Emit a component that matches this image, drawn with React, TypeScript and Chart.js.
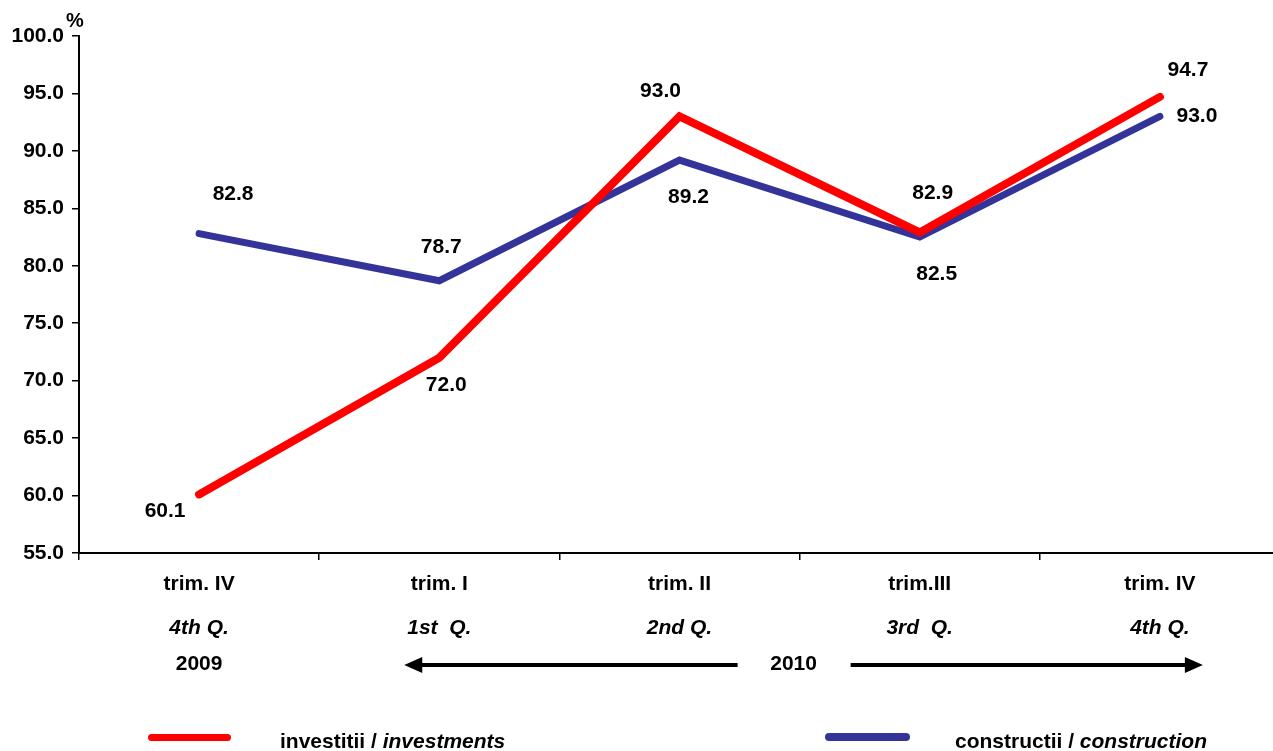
import React, { useEffect, useRef } from "react";
import { Chart, registerables } from "chart.js";

Chart.register(...registerables);

const FONT = '"Liberation Sans", Arial, sans-serif';
const FS = 21;

// ---- data ----
const quarterLabels = ["trim. IV", "trim. I", "trim. II", "trim.III", "trim. IV"];
const quarterLabelsEn = ["4th Q.", "1st  Q.", "2nd Q.", "3rd  Q.", "4th Q."];
const yearLabels = ["2009", "", "", "", ""];
const yearSpanLabel = "2010";
const investmentsValues = [60.1, 72.0, 93.0, 82.9, 94.7];
const constructionValues = [82.8, 78.7, 89.2, 82.5, 93.0];
const investmentsName = ["investitii / ", "investments"];
const constructionName = ["constructii / ", "construction"];
const yMin = 55;
const yMax = 100;
const yStep = 5;
const yUnit = "%";

// ---- label placement (px offsets from each point) ----
const investmentsLabelOffsets = [[-34, 17], [7, 28], [-19, -25], [13, -39], [28, -27]];
const constructionLabelOffsets = [[34, -39], [2, -34], [9, 37], [17, 37], [37, 0]];
// arrow spans for "2010" (in category-index units along the x scale)
const arrowLeftSpan = [0.854, 2.242];
const arrowRightSpan = [2.7125, 4.179];
const yearSpanPos = 2.475;

const RED = "#FF0000";
const BLUE = "#333399";

const overlayPlugin = {
  id: "overlay",
  afterDatasetsDraw(chart: any) {
    const ctx = chart.ctx;
    const x = chart.scales.x;
    const y = chart.scales.y;
    const x3 = chart.scales.x3;
    ctx.save();
    // data labels
    ctx.font = `bold ${FS}px ${FONT}`;
    ctx.fillStyle = "#000";
    ctx.textAlign = "center";
    ctx.textBaseline = "middle";
    const offs = [investmentsLabelOffsets, constructionLabelOffsets];
    chart.data.datasets.forEach((ds: any, di: number) => {
      const meta = chart.getDatasetMeta(di);
      meta.data.forEach((pt: any, i: number) => {
        const [dx, dy] = offs[di][i];
        ctx.fillText(Number(ds.data[i]).toFixed(1), pt.x + dx, pt.y + dy);
      });
    });
    // unit label
    ctx.font = `bold 20px ${FONT}`;
    ctx.fillText(yUnit, y.right - 4, chart.chartArea.top - 15);
    // 2010 with arrows
    const cy = (x3.top + x3.bottom) / 2 + 1;
    ctx.font = `bold ${FS}px ${FONT}`;
    ctx.fillText(yearSpanLabel, x.getPixelForValue(yearSpanPos), cy - 1);
    ctx.strokeStyle = "#000";
    ctx.fillStyle = "#000";
    ctx.lineWidth = 4;
    const head = 18;
    const half = 8;
    const l0 = x.getPixelForValue(arrowLeftSpan[0]);
    const l1 = x.getPixelForValue(arrowLeftSpan[1]);
    ctx.beginPath();
    ctx.moveTo(l0 + head - 2, cy);
    ctx.lineTo(l1, cy);
    ctx.stroke();
    ctx.beginPath();
    ctx.moveTo(l0, cy);
    ctx.lineTo(l0 + head, cy - half);
    ctx.lineTo(l0 + head, cy + half);
    ctx.closePath();
    ctx.fill();
    const r0 = x.getPixelForValue(arrowRightSpan[0]);
    const r1 = x.getPixelForValue(arrowRightSpan[1]);
    ctx.beginPath();
    ctx.moveTo(r0, cy);
    ctx.lineTo(r1 - head + 2, cy);
    ctx.stroke();
    ctx.beginPath();
    ctx.moveTo(r1, cy);
    ctx.lineTo(r1 - head, cy - half);
    ctx.lineTo(r1 - head, cy + half);
    ctx.closePath();
    ctx.fill();
    ctx.restore();
  },
};

export default function App() {
  const ref = useRef<HTMLCanvasElement | null>(null);

  useEffect(() => {
    if (!ref.current) return;
    Chart.defaults.font.family = FONT;
    const chart = new Chart(ref.current, {
      type: "line",
      data: {
        labels: quarterLabels,
        datasets: [
          {
            label: investmentsName.join(""),
            data: investmentsValues,
            borderColor: RED,
            backgroundColor: RED,
            borderWidth: 8,
            pointRadius: 0,
            borderCapStyle: "round",
            borderJoinStyle: "miter",
            tension: 0,
          },
          {
            label: constructionName.join(""),
            data: constructionValues,
            borderColor: BLUE,
            backgroundColor: BLUE,
            borderWidth: 7,
            pointRadius: 0,
            borderCapStyle: "round",
            borderJoinStyle: "miter",
            tension: 0,
          },
        ],
      },
      options: {
        responsive: false,
        animation: false,
        layout: { padding: { top: 36, bottom: 69, left: 0, right: 0 } },
        plugins: {
          legend: { display: false },
          tooltip: { enabled: false },
        },
        scales: {
          x: {
            type: "category",
            position: "bottom",
            weight: 0,
            offset: true,
            grid: {
              offset: true,
              drawOnChartArea: false,
              drawTicks: true,
              tickLength: 7,
              color: "#000",
              lineWidth: 1.5,
            },
            border: { display: true, color: "#000", width: 2 },
            ticks: {
              color: "#000",
              font: { size: FS, weight: "bold", family: FONT },
              padding: 12,
              autoSkip: false,
              maxRotation: 0,
            },
            afterFit: (s: any) => {
              s.height = 57;
            },
          },
          x2: {
            type: "category",
            position: "bottom",
            weight: 1,
            offset: true,
            labels: quarterLabelsEn,
            grid: { display: false, drawTicks: false },
            border: { display: false },
            ticks: {
              color: "#000",
              font: { size: FS, weight: "bold", style: "italic", family: FONT },
              padding: 6,
              autoSkip: false,
              maxRotation: 0,
            },
            afterFit: (s: any) => {
              s.height = 36;
            },
          },
          x3: {
            type: "category",
            position: "bottom",
            weight: 2,
            offset: true,
            labels: yearLabels,
            grid: { display: false, drawTicks: false },
            border: { display: false },
            ticks: {
              color: "#000",
              font: { size: FS, weight: "bold", family: FONT },
              padding: 6,
              autoSkip: false,
              maxRotation: 0,
            },
            afterFit: (s: any) => {
              s.height = 36;
            },
          },
          y: {
            type: "linear",
            min: yMin,
            max: yMax,
            grid: {
              drawOnChartArea: false,
              drawTicks: true,
              tickLength: 7,
              color: "#000",
              lineWidth: 1.5,
            },
            border: { display: true, color: "#000", width: 2 },
            ticks: {
              stepSize: yStep,
              color: "#000",
              font: { size: FS, weight: "bold", family: FONT },
              padding: 8,
              callback: (v: any) => Number(v).toFixed(1),
            },
            afterFit: (s: any) => {
              s.width = 79;
            },
          },
        },
      },
      plugins: [overlayPlugin],
    } as any);
    return () => chart.destroy();
  }, []);

  const textStyle: React.CSSProperties = {
    position: "absolute",
    top: 729,
    font: `bold ${FS}px ${FONT}`,
    lineHeight: "24px",
    color: "#000",
    whiteSpace: "pre",
  };
  const swatch = (left: number, width: number, color: string, h: number): React.CSSProperties => ({
    position: "absolute",
    left,
    top: 737 - h / 2,
    width,
    height: h,
    borderRadius: h / 2,
    background: color,
  });

  return (
    <div style={{ position: "fixed", left: 0, top: 0, width: 1273, height: 751, overflow: "hidden", background: "#fff" }}>
      <canvas ref={ref} width={1280} height={751} style={{ display: "block", position: "absolute", left: 0, top: 0 }} />
      <div style={swatch(148, 83, RED, 7)} />
      <div style={{ ...textStyle, left: 280 }}>
        {investmentsName[0]}
        <i>{investmentsName[1]}</i>
      </div>
      <div style={swatch(825, 85, BLUE, 8)} />
      <div style={{ ...textStyle, left: 955 }}>
        {constructionName[0]}
        <i>{constructionName[1]}</i>
      </div>
    </div>
  );
}
